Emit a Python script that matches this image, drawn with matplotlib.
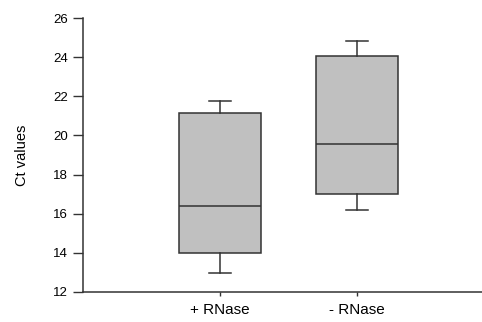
import matplotlib
matplotlib.use('Agg')
import matplotlib.pyplot as plt

plt.rcParams['font.family'] = ['Liberation Sans', 'DejaVu Sans']

labels = ['+ RNase', '- RNase']
whislo = [12.95, 16.2]
q1 = [14.0, 17.0]
med = [16.4, 19.55]
q3 = [21.15, 24.05]
whishi = [21.75, 24.8]

stats = []
for i in range(len(labels)):
    stats.append({'label': labels[i], 'whislo': whislo[i], 'q1': q1[i],
                  'med': med[i], 'q3': q3[i], 'whishi': whishi[i], 'fliers': []})

fig = plt.figure(figsize=(4.82, 3.22), dpi=100)
ax = fig.add_axes([83 / 482, 30 / 322, 1 - 83 / 482, 274 / 322])

edge = '#333333'
ax.bxp(stats, positions=[1, 2], widths=0.6, patch_artist=True, showfliers=False,
       boxprops=dict(facecolor='#c0c0c0', edgecolor=edge, linewidth=1.1),
       medianprops=dict(color=edge, linewidth=1.1),
       whiskerprops=dict(color=edge, linewidth=1.1),
       capprops=dict(color=edge, linewidth=1.1),
       capwidths=0.16)

ax.set_xlim(0, 2.91)
ax.set_ylim(12, 26)
ax.set_yticks(range(12, 27, 2))
ax.set_xticks([1, 2])
ax.set_xticklabels(labels)
ax.spines['top'].set_visible(False)
ax.spines['right'].set_visible(False)
for s in ['left', 'bottom']:
    ax.spines[s].set_color(edge)
    ax.spines[s].set_linewidth(1.1)
ax.tick_params(axis='y', length=7, width=1, color=edge, labelsize=9.5, pad=4)
ax.tick_params(axis='x', length=3, width=1, color=edge, labelsize=11, pad=5)
ax.set_ylabel('Ct values', fontsize=10.5, labelpad=17)

fig.savefig('out.png', dpi=100)
